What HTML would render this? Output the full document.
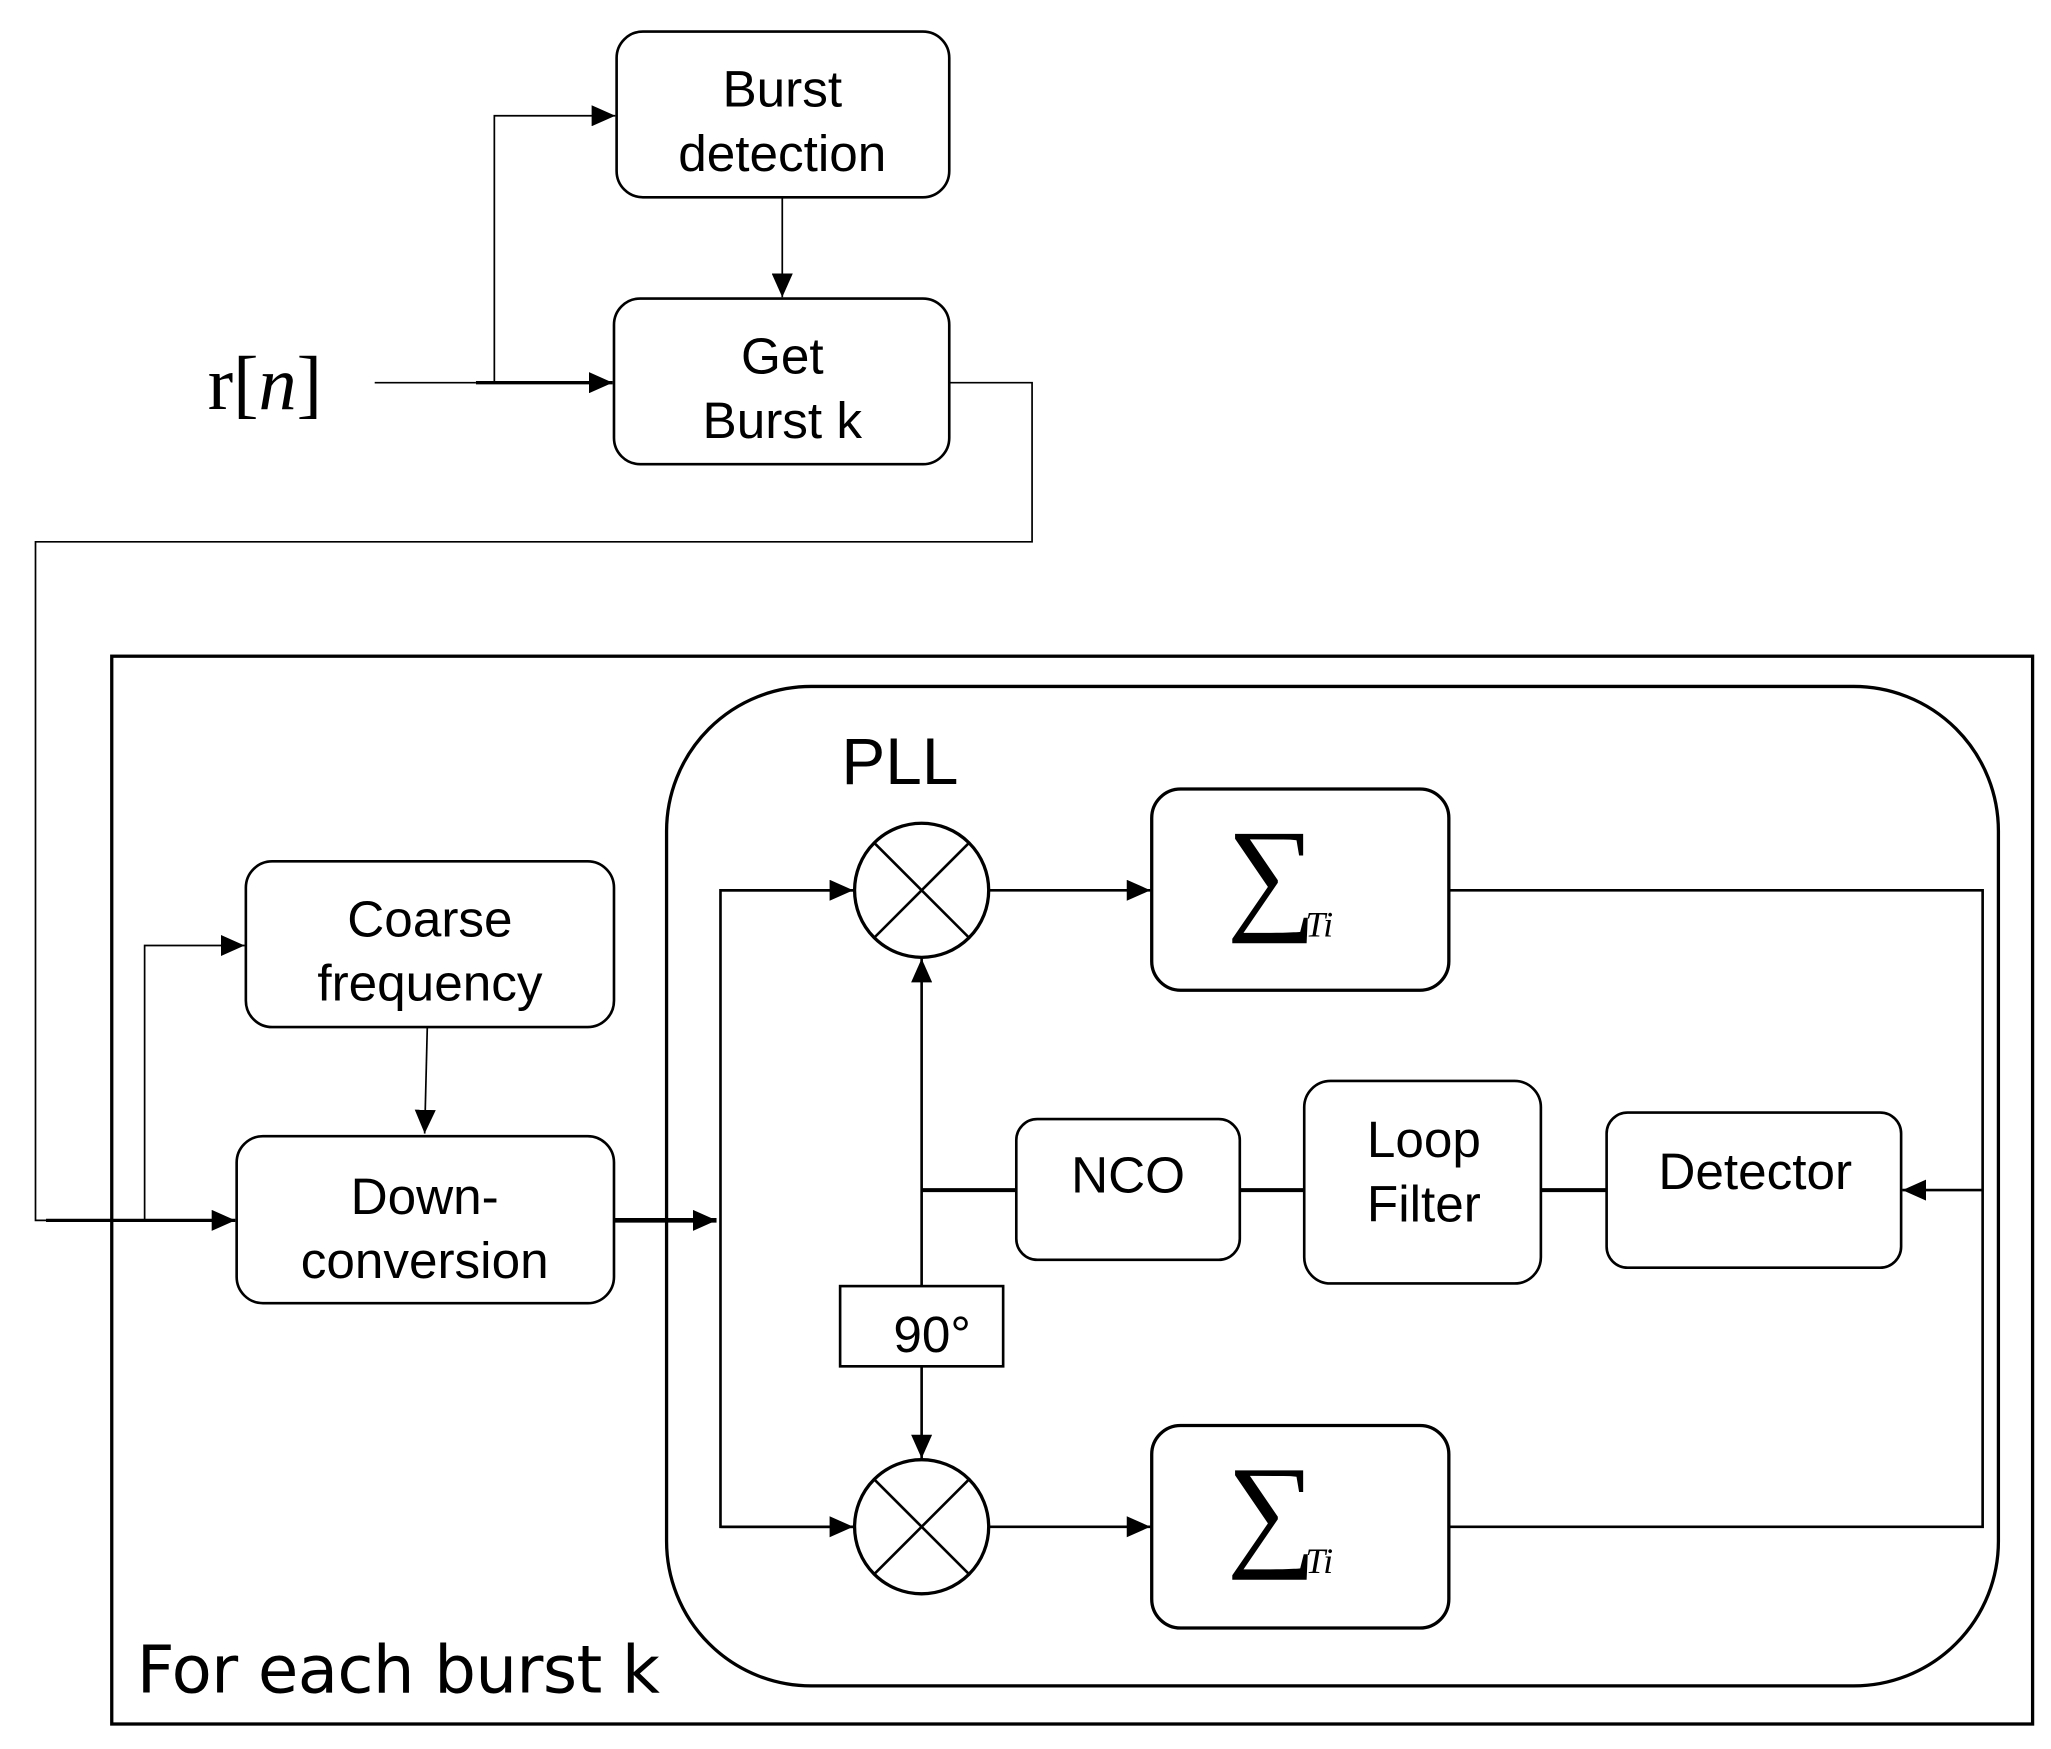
<!DOCTYPE html>
<html><head><meta charset="utf-8"><style>
html,body{margin:0;padding:0;background:#fff;}
svg{display:block;}
text{font-family:"Liberation Sans",sans-serif;fill:#000;}
</style></head><body>
<svg width="2051" height="1749" viewBox="0 0 1560 1330" preserveAspectRatio="none" xmlns="http://www.w3.org/2000/svg">
<defs>
<marker id="b" markerWidth="18" markerHeight="16" refX="18" refY="8" orient="auto" markerUnits="userSpaceOnUse" viewBox="0 0 18 16">
<path d="M0,0 L18,8 L0,16 z" fill="#000"/></marker>
</defs>
<g fill="none" stroke="#000">
<rect x="469" y="24" width="253" height="126" rx="20" stroke-width="2"/>
<rect x="467" y="227" width="255" height="126" rx="20" stroke-width="2"/>
<line x1="595" y1="150" x2="595" y2="226" stroke-width="1.3" marker-end="url(#b)"/>
<line x1="285" y1="291" x2="362" y2="291" stroke-width="1.3"/>
<line x1="362" y1="291" x2="466" y2="291" stroke-width="2.5" marker-end="url(#b)"/>
<polyline points="376,291 376,88 468,88" stroke-width="1.3" marker-end="url(#b)"/>
<polyline points="722,291 785,291 785,412 27,412 27,928 35,928" stroke-width="1.3"/>
<line x1="35" y1="928" x2="179" y2="928" stroke-width="2.5" marker-end="url(#b)"/>
<polyline points="110,928 110,719 186,719" stroke-width="1.3" marker-end="url(#b)"/>
<rect x="85" y="499" width="1461" height="812" stroke-width="2.5"/>
<rect x="187" y="655" width="280" height="126" rx="20" stroke-width="2"/>
<rect x="180" y="864" width="287" height="127" rx="20" stroke-width="2"/>
<line x1="325" y1="781" x2="323" y2="862" stroke-width="1.3" marker-end="url(#b)"/>
<line x1="467" y1="928" x2="545" y2="928" stroke-width="3.5" marker-end="url(#b)"/>
<rect x="507" y="522" width="1013" height="760" rx="110" stroke-width="2.5"/>
<polyline points="649,677 548,677 548,1161 649,1161" stroke-width="2" />
<line x1="548" y1="677" x2="649" y2="677" stroke-width="2" marker-end="url(#b)"/>
<line x1="548" y1="1161" x2="649" y2="1161" stroke-width="2" marker-end="url(#b)"/>
<circle cx="701" cy="677" r="51" stroke-width="2.5"/>
<circle cx="701" cy="1161" r="51" stroke-width="2.5"/>
<line x1="665" y1="641" x2="737" y2="713" stroke-width="2"/>
<line x1="737" y1="641" x2="665" y2="713" stroke-width="2"/>
<line x1="665" y1="1125" x2="737" y2="1197" stroke-width="2"/>
<line x1="737" y1="1125" x2="665" y2="1197" stroke-width="2"/>
<line x1="752" y1="677" x2="875" y2="677" stroke-width="2" marker-end="url(#b)"/>
<line x1="752" y1="1161" x2="875" y2="1161" stroke-width="2" marker-end="url(#b)"/>
<rect x="876" y="600" width="226" height="153" rx="22" stroke-width="2.5"/>
<rect x="876" y="1084" width="226" height="154" rx="22" stroke-width="2.5"/>
<polyline points="1102,677 1508,677 1508,1161 1102,1161" stroke-width="2"/>
<line x1="1508" y1="905" x2="1447" y2="905" stroke-width="2" marker-end="url(#b)"/>
<rect x="1222" y="846" width="224" height="118" rx="16" stroke-width="2"/>
<rect x="992" y="822" width="180" height="154" rx="20" stroke-width="2"/>
<rect x="773" y="851" width="170" height="107" rx="16" stroke-width="2"/>
<line x1="943" y1="905" x2="992" y2="905" stroke-width="3"/>
<line x1="1172" y1="905" x2="1222" y2="905" stroke-width="3"/>
<line x1="701" y1="905" x2="773" y2="905" stroke-width="3"/>
<line x1="701" y1="978" x2="701" y2="729" stroke-width="2" marker-end="url(#b)"/>
<rect x="639" y="978" width="124" height="61" stroke-width="2"/>
<line x1="701" y1="1039" x2="701" y2="1109" stroke-width="2" marker-end="url(#b)"/>
</g>
<g font-size="39" text-anchor="middle">
<text x="595" y="81">Burst</text>
<text x="595" y="130">detection</text>
<text x="595" y="284">Get</text>
<text x="595" y="333">Burst k</text>
<text x="327" y="712">Coarse</text>
<text x="327" y="761">frequency</text>
<text x="323" y="923">Down-</text>
<text x="323" y="972">conversion</text>
<text x="858" y="907">NCO</text>
<text x="1083" y="880">Loop</text>
<text x="1083" y="929">Filter</text>
<text x="1335" y="904">Detector</text>
<text x="709" y="1028">90°</text>
</g>
<text x="640" y="596" font-size="50">PLL</text>
<text x="104" y="1287" font-size="50" style="font-family:'DejaVu Sans','Liberation Sans',sans-serif" textLength="398">For each burst k</text>
<text x="158" y="311" font-size="58" style="font-family:'Liberation Serif',serif">r[<tspan font-style="italic">n</tspan>]</text>
<text x="933" y="697" font-size="96" style="font-family:'Liberation Serif',serif">∑</text>
<text x="993" y="712" font-size="27" font-style="italic" style="font-family:'Liberation Serif',serif">Ti</text>
<text x="933" y="1181" font-size="96" style="font-family:'Liberation Serif',serif">∑</text>
<text x="993" y="1196" font-size="27" font-style="italic" style="font-family:'Liberation Serif',serif">Ti</text>
</svg>
</body></html>
